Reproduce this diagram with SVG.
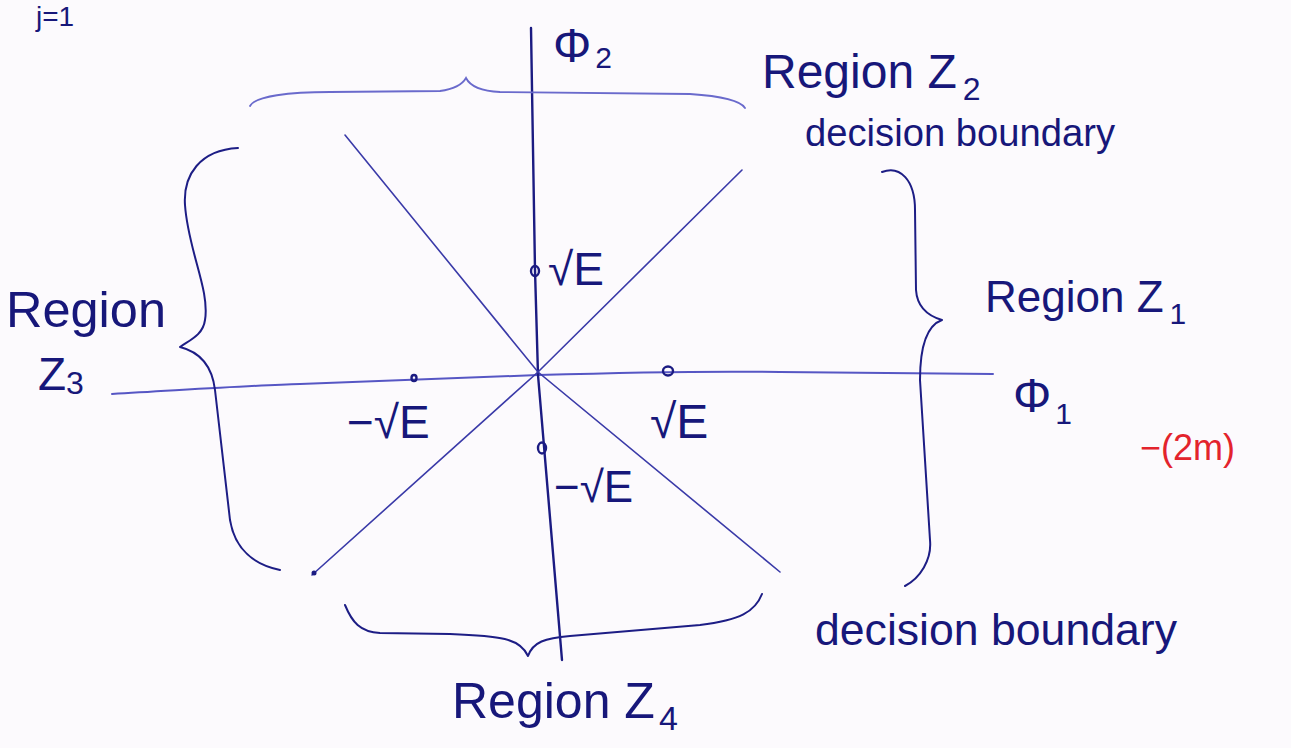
<svg xmlns="http://www.w3.org/2000/svg" width="1291" height="748" viewBox="0 0 1291 748">
<style>
.ink{fill:#17177a;font-family:"Liberation Sans","DejaVu Sans",sans-serif}
.red{fill:#e3232c;font-family:"Liberation Sans","DejaVu Sans",sans-serif}
.ax{fill:none;stroke:#1b1b82;stroke-width:2.4;stroke-linecap:round}
.axl{fill:none;stroke:#5656c4;stroke-width:2;stroke-linecap:round}
.dl{fill:none;stroke:#3a3aa8;stroke-width:1.6;stroke-linecap:round}
.br{fill:none;stroke:#1d1d85;stroke-width:2;stroke-linecap:round;stroke-linejoin:round}
.brl{fill:none;stroke:#6a6acc;stroke-width:1.8;stroke-linecap:round}
.pt{fill:none;stroke:#1b1b82;stroke-width:2.4}
</style>
<rect width="1291" height="748" fill="#fcfafd"/>
<g id="connectors">
  <path id="axis-phi1" class="axl" d="M112,394 C200,389 260,385 300,384 L538,375 C640,372 720,371 780,372 L993,374"/>
  <path id="axis-phi2" class="ax" d="M531,28 L535,270 L538,375 L562,660"/>
  <path id="boundary-1" class="dl" d="M345,135 L538,372 L780,572"/>
  <path id="boundary-2" class="dl" d="M312,575 L538,372 L742,170"/>
</g>
<g id="points">
  <ellipse class="pt" cx="535" cy="271" rx="4" ry="5"/>
  <ellipse class="pt" cx="414" cy="378" rx="2.5" ry="3" fill="#1b1b82"/>
  <ellipse class="pt" cx="668" cy="371" rx="5" ry="4.5"/>
  <ellipse class="pt" cx="542" cy="448" rx="4" ry="5.5"/>
  <circle cx="314" cy="573" r="2.5" fill="#1b1b82"/>
</g>
<g id="braces">
  <path id="brace-z2" class="brl" d="M250,106 C255,96 290,92 330,92 L440,91 C455,89 462,85 466,78 C470,86 480,91 500,92 L690,94 C720,96 740,100 745,108"/>
  <path id="brace-z3" class="br" d="M238,148 C200,150 183,175 185,205 C188,250 210,290 205,320 C203,335 190,340 180,347 C200,352 212,365 215,390 L230,520 C235,550 255,565 280,570"/>
  <path id="brace-z1" class="br" d="M882,172 C900,165 915,180 915,210 L916,290 C917,305 925,315 942,320 C928,325 920,345 920,380 L930,540 C932,560 920,578 905,586"/>
  <path id="brace-z4" class="br" d="M345,605 C352,622 360,632 380,633 L450,634 C500,636 520,638 528,656 C533,642 545,638 570,636 L700,625 C740,620 755,612 762,594"/>
</g>
<g id="labels">
  <text class="ink" x="36" y="26" font-size="28">j=1</text>
  <text id="label-phi2" class="ink" x="553" y="62" font-size="48">Φ<tspan font-size="30" dx="4" dy="6">2</tspan></text>
  <text id="label-region-z2" class="ink" x="762" y="88" font-size="48">Region Z<tspan font-size="32" dx="6" dy="12">2</tspan></text>
  <text id="label-db-top" class="ink" x="805" y="146" font-size="38" textLength="310" lengthAdjust="spacingAndGlyphs">decision boundary</text>
  <text id="label-region-z3a" class="ink" x="6" y="327" font-size="50" textLength="160" lengthAdjust="spacingAndGlyphs">Region</text>
  <text id="label-region-z3b" class="ink" x="38" y="390" font-size="46">Z<tspan font-size="32" dy="4">3</tspan></text>
  <text id="label-region-z1" class="ink" x="985" y="312" font-size="44">Region Z<tspan font-size="30" dx="6" dy="12">1</tspan></text>
  <text id="label-phi1" class="ink" x="1013" y="412" font-size="48">Φ<tspan font-size="30" dx="4" dy="12">1</tspan></text>
  <text id="label-2m" class="red" x="1140" y="460" font-size="36">−(2m)</text>
  <text class="ink" x="548" y="285" font-size="46">√E</text>
  <text class="ink" x="347" y="438" font-size="46">−√E</text>
  <text class="ink" x="650" y="438" font-size="48">√E</text>
  <text class="ink" x="554" y="502" font-size="44">−√E</text>
  <text id="label-db-bottom" class="ink" x="815" y="645" font-size="45" textLength="362" lengthAdjust="spacingAndGlyphs">decision boundary</text>
  <text id="label-region-z4" class="ink" x="452" y="718" font-size="50">Region Z<tspan font-size="34" dx="4" dy="12">4</tspan></text>
</g>
</svg>
